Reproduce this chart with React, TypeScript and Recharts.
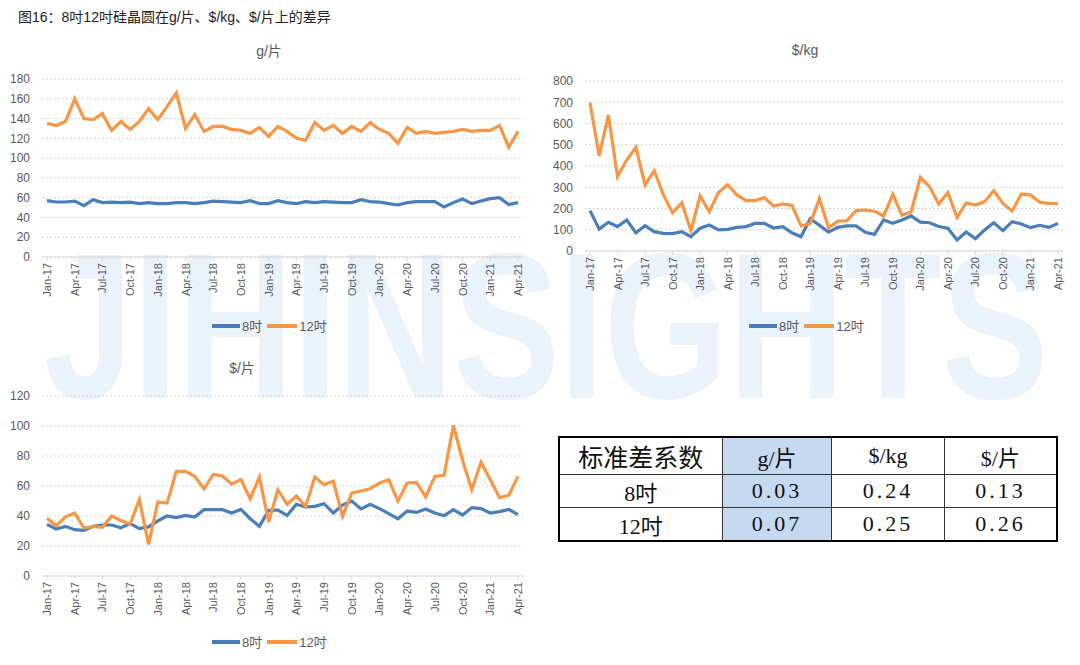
import React from 'react';
import { LineChart, Line, XAxis, YAxis, CartesianGrid } from 'recharts';

const BLUE = '#4a7ebb';
const ORANGE = '#f79646';
const AXIS_TEXT = '#595959';
const SANS = "'Liberation Sans', 'Noto Sans CJK SC', sans-serif";
const SERIF = "'Liberation Serif', 'DejaVu Serif', 'Noto Sans CJK SC', serif";

const months = [
    'Jan-17', 'Feb-17', 'Mar-17', 'Apr-17', 'May-17', 'Jun-17', 'Jul-17', 'Aug-17', 'Sep-17', 'Oct-17', 'Nov-17', 'Dec-17',
    'Jan-18', 'Feb-18', 'Mar-18', 'Apr-18', 'May-18', 'Jun-18', 'Jul-18', 'Aug-18', 'Sep-18', 'Oct-18', 'Nov-18', 'Dec-18',
    'Jan-19', 'Feb-19', 'Mar-19', 'Apr-19', 'May-19', 'Jun-19', 'Jul-19', 'Aug-19', 'Sep-19', 'Oct-19', 'Nov-19', 'Dec-19',
    'Jan-20', 'Feb-20', 'Mar-20', 'Apr-20', 'May-20', 'Jun-20', 'Jul-20', 'Aug-20', 'Sep-20', 'Oct-20', 'Nov-20', 'Dec-20',
    'Jan-21', 'Feb-21', 'Mar-21', 'Apr-21'
];

// g/片
const gram8 = [
    57, 55.6, 55.6, 56.5, 52, 58, 55, 55.5, 55, 55.5,
    54, 55, 54, 54, 55, 55, 54, 55, 56.5, 56,
    55.5, 55, 57, 54, 54, 57, 55, 54, 56, 55,
    56, 55.5, 55, 55, 58, 56, 55.5, 54, 52.6, 55,
    56, 56, 56, 50.5, 55, 58.6, 54, 56.6, 59, 60,
    53, 55
];
const gram12 = [
    135, 133, 137, 160, 140, 139, 145, 128, 137, 129,
    137, 150, 139, 152, 166, 130, 144, 127, 132, 132,
    129, 128, 125, 131, 122, 132, 127, 120, 118, 136,
    128, 133, 125, 132, 127, 136, 129, 125, 115, 131,
    125, 127, 125, 126, 127, 129, 127, 128, 128, 133,
    111, 127
];

// $/kg
const perKg8 = [
    190, 103, 135, 115, 146, 86, 119, 91, 83, 82,
    91, 67, 107, 122, 99, 102, 111, 115, 130, 130,
    108, 115, 86, 67, 152, 121, 89, 111, 118, 118,
    88, 78, 146, 130, 146, 165, 136, 133, 115, 107,
    52, 89, 58, 99, 133, 96, 138, 127, 110, 121,
    111, 130
];
const perKg12 = [
    698, 447, 640, 350, 428, 488, 311, 378, 264, 180,
    227, 96, 259, 185, 275, 312, 264, 237, 237, 251,
    212, 221, 215, 118, 130, 246, 110, 140, 143, 190,
    193, 187, 165, 267, 168, 185, 347, 303, 221, 275,
    158, 227, 216, 232, 284, 224, 188, 267, 264, 229,
    224, 223
];

// $/片
const perWafer8 = [
    34.4, 31.3, 33.1, 30.9, 30.4, 33.1, 34, 34, 32.2, 34.9,
    31.6, 32.7, 36.7, 40, 38.9, 40.4, 39.3, 44.2, 44.2, 44.2,
    42, 44.4, 38.2, 33.1, 43.8, 44, 40.4, 47.8, 46, 46.4,
    48.2, 42, 47.3, 50, 44.7, 47.8, 44.9, 41.6, 38.2, 43.3,
    42.4, 44.7, 42, 40.2, 44.2, 40.7, 45.6, 44.9, 42, 42.9,
    44.4, 40.9
];
const perWafer12 = [
    38.5, 33.5, 39.5, 42, 32, 33, 32.5, 40, 37, 34.5,
    51, 21, 49.3, 48.6, 69.7, 69.7, 66.5, 58, 67.7, 66.7,
    61.2, 64.3, 51.5, 66, 36, 57.5, 47.8, 53.3, 46.4, 66,
    60.9, 63.3, 39.8, 55.3, 56.7, 58.2, 62, 64.2, 50, 62,
    62.4, 52.7, 66.4, 67.3, 100.4, 77, 57.6, 75.8, 64.2, 52.2,
    53.8, 66.4
];

const gramTicks = [0, 20, 40, 60, 80, 100, 120, 140, 160, 180];
const perKgTicks = [0, 100, 200, 300, 400, 500, 600, 700, 800];
const perWaferTicks = [0, 20, 40, 60, 80, 100, 120];

const tableHeader = ['标准差系数', 'g/片', '$/kg', '$/片'];
const tableRows = [
    ['8吋', '0.03', '0.24', '0.13'],
    ['12吋', '0.07', '0.25', '0.26']
];

const toRows = (a: number[], b: number[]) =>
    months.map((month, i) => ({ month, s8: a[i], s12: b[i] }));

const MonthTick = (props: any) => {
    const { x, y, payload } = props;
    return (
        <text
            x={x}
            y={y}
            dy={4}
            transform={`rotate(-90, ${x}, ${y})`}
            textAnchor="end"
            fill={AXIS_TEXT}
            fontSize={11}
            fontFamily={SANS}
        >
            {payload.value}
        </text>
    );
};

interface PanelProps {
    data: { month: string; s8: number; s12: number }[];
    ticks: number[];
    height: number;
    xHeight: number;
    yWidth: number;
    margin: { top: number; right: number; left: number; bottom: number };
}

const Panel: React.FC<PanelProps> = ({ data, ticks, height, xHeight, yWidth, margin }) => (
    <LineChart width={540} height={height} data={data} margin={margin}>
        <CartesianGrid vertical={false} stroke="#d4d4d4" strokeDasharray="2 2" />
        <XAxis
            dataKey="month"
            interval={2}
            tick={<MonthTick />}
            tickSize={4}
            tickLine={{ stroke: '#d9d9d9' }}
            axisLine={{ stroke: '#d9d9d9' }}
            height={xHeight}
            padding={{ left: 5, right: 5 }}
        />
        <YAxis
            domain={[ticks[0], ticks[ticks.length - 1]]}
            ticks={ticks}
            interval={0}
            axisLine={false}
            tickLine={false}
            tickMargin={6}
            width={yWidth}
            tick={{ fill: AXIS_TEXT, fontSize: 12, fontFamily: SANS }}
        />
        <Line dataKey="s8" stroke={BLUE} strokeWidth={3.2} dot={false} isAnimationActive={false} />
        <Line dataKey="s12" stroke={ORANGE} strokeWidth={3.2} dot={false} isAnimationActive={false} />
    </LineChart>
);

const LegendKey = ({ left, top }: { left: number; top: number }) => (
    <div style={{ position: 'absolute', left, top, display: 'flex', alignItems: 'center', fontSize: 13, color: AXIS_TEXT, fontFamily: SANS }}>
        <span style={{ width: 28, height: 4, background: BLUE, display: 'inline-block' }} />
        <span style={{ marginLeft: 2 }}>8吋</span>
        <span style={{ width: 30, height: 4, background: ORANGE, display: 'inline-block', marginLeft: 5 }} />
        <span style={{ marginLeft: 2 }}>12吋</span>
    </div>
);

const PanelTitle = ({ text, cx, top }: { text: string; cx: number; top: number }) => (
    <div style={{ position: 'absolute', left: cx - 40, top, width: 80, textAlign: 'center', fontSize: 14, color: AXIS_TEXT, fontFamily: SANS }}>
        {text}
    </div>
);

const cellBase: React.CSSProperties = {
    border: '1px solid #333',
    textAlign: 'center',
    padding: 0,
    color: '#111',
    fontFamily: SERIF
};

export default function App() {
    return (
        <div style={{ position: 'absolute', left: 0, top: 0, width: 1080, height: 665, background: '#fff', overflow: 'hidden' }}>
            {/* faint watermark behind the panels */}
            <svg width={1080} height={665} style={{ position: 'absolute', left: 0, top: 0 }}>
                <g transform="translate(44, 398) scale(1, 1.3)">
                    <text x={0} y={0} fontSize={160} fontWeight="bold" fontFamily={SANS} fill="#eaf2fc">
                        JIHINSIGHTS
                    </text>
                </g>
            </svg>

            <div style={{ position: 'absolute', left: 18, top: 6, fontSize: 14, color: '#222', fontFamily: SANS }}>
                图16：8吋12吋硅晶圆在g/片、$/kg、$/片上的差异
            </div>

            <PanelTitle text="g/片" cx={269} top={40} />
            <div style={{ position: 'absolute', left: 0, top: 60 }}>
                <Panel
                    data={toRows(gram8, gram12)}
                    ticks={gramTicks}
                    height={250}
                    xHeight={53}
                    yWidth={34}
                    margin={{ top: 19, right: 17, left: 8, bottom: 0 }}
                />
            </div>
            <LegendKey left={212} top={316} />

            <PanelTitle text="$/kg" cx={805} top={42} />
            <div style={{ position: 'absolute', left: 540, top: 60 }}>
                <Panel
                    data={toRows(perKg8, perKg12)}
                    ticks={perKgTicks}
                    height={250}
                    xHeight={59}
                    yWidth={36}
                    margin={{ top: 21, right: 17, left: 9, bottom: 0 }}
                />
            </div>
            <LegendKey left={749} top={316} />

            <PanelTitle text="$/片" cx={242} top={357} />
            <div style={{ position: 'absolute', left: 0, top: 370 }}>
                <Panel
                    data={toRows(perWafer8, perWafer12)}
                    ticks={perWaferTicks}
                    height={260}
                    xHeight={54}
                    yWidth={34}
                    margin={{ top: 26, right: 17, left: 8, bottom: 0 }}
                />
            </div>
            <LegendKey left={212} top={632} />

            <table
                style={{
                    position: 'absolute',
                    left: 558,
                    top: 436,
                    width: 500,
                    height: 100,
                    borderCollapse: 'collapse',
                    border: '2px solid #000',
                    background: '#fff'
                }}
            >
                <colgroup>
                    <col style={{ width: 164 }} />
                    <col style={{ width: 110 }} />
                    <col style={{ width: 113 }} />
                    <col style={{ width: 113 }} />
                </colgroup>
                <tbody>
                    <tr style={{ height: 36 }}>
                        {tableHeader.map((h, i) => (
                            <td
                                key={h}
                                style={{
                                    ...cellBase,
                                    fontSize: i === 0 ? 25 : 22,
                                    background: i === 1 ? '#c5d9f1' : '#fff'
                                }}
                            >
                                {h}
                            </td>
                        ))}
                    </tr>
                    {tableRows.map(row => (
                        <tr key={row[0]} style={{ height: 32 }}>
                            {row.map((v, i) => (
                                <td
                                    key={i}
                                    style={{
                                        ...cellBase,
                                        fontSize: 22,
                                        letterSpacing: i === 0 ? 0 : 3,
                                        background: i === 1 ? '#c5d9f1' : '#fff'
                                    }}
                                >
                                    {v}
                                </td>
                            ))}
                        </tr>
                    ))}
                </tbody>
            </table>
        </div>
    );
}
